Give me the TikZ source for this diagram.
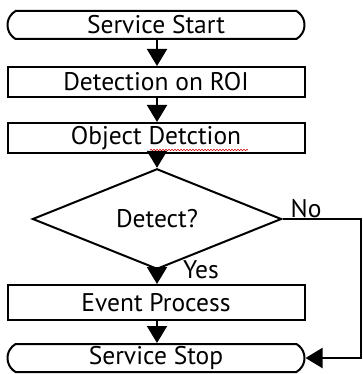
\documentclass[tikz,border=0pt]{standalone}
\usepackage{fontspec}
\setmainfont{PT Sans}
\usetikzlibrary{arrows.meta,shapes.geometric,shapes.misc,decorations.pathmorphing}
\begin{document}
\begin{tikzpicture}[x=1pt,y=-1pt,
  every node/.style={font=\fontsize{25.5}{28}\selectfont},
  boxstyle/.style={draw,line width=2pt,rectangle,minimum width=297pt,inner sep=0pt},
  termstyle/.style={draw,line width=2pt,rounded rectangle,rounded rectangle arc length=120,minimum width=297pt,minimum height=28pt,inner sep=0pt},
  flow/.style={line width=2pt,-{Triangle[width=20pt,length=17pt]}},
  lbl/.style={inner sep=0pt}]
\useasboundingbox (0,0) rectangle (363,374);
\node[termstyle] (start) at (156,25) {Service Start};
\node[boxstyle,minimum height=30pt] (roi) at (156,82) {Detection on ROI};
\node[boxstyle,minimum height=30pt] (obj) at (156,138) {Object Detction};
\node[draw,line width=2pt,diamond,minimum width=249pt,minimum height=78pt,inner sep=0pt] (dec) at (157,219) {Detect?};
\node[boxstyle,minimum height=35pt] (ev) at (156,302.5) {Event Process};
\node[termstyle] (stop) at (156,358) {Service Stop};
\coordinate (cr) at (361,219);
\node[lbl] (no) at (306,209) {No};
\node[lbl] (yes) at (201,270) {Yes};
\draw[flow] (start.south -| dec.north) -- (roi.north -| dec.north);
\draw[flow] (roi.south -| dec.north) -- (obj.north -| dec.north);
\draw[flow] (obj.south -| dec.north) -- (dec.north);
\draw[flow] (dec.south) -- (ev.north -| dec.south);
\draw[flow] (ev.south -| dec.south) -- (stop.north -| dec.south);
\draw[flow] (dec.east) -- (cr) |- (stop.east);
\coordinate (w1) at (150,150);
\coordinate (w2) at (248,150);
\draw[red!80!black,line width=0.5pt,decorate,decoration={snake,amplitude=0.7pt,segment length=3pt}] (w1) -- (w2);
\end{tikzpicture}
\end{document}
